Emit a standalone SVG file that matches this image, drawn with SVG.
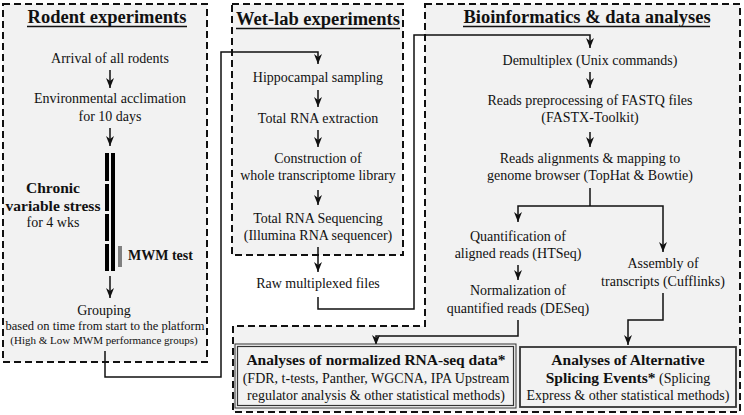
<svg xmlns="http://www.w3.org/2000/svg" width="744" height="415" viewBox="0 0 744 415">
<defs>
<marker id="ah" markerWidth="10" markerHeight="8" refX="10" refY="4" orient="auto" markerUnits="userSpaceOnUse" viewBox="0 0 10 8">
<path d="M0,0 L10,4 L0,8 L3,4 Z" fill="#111"/>
</marker>
<style>
text{fill:#111;text-anchor:middle}
.t{font-size:18.5px;font-weight:bold}
.b{font-size:14px}
.bb{font-size:15.5px;font-weight:bold}
.s{font-size:12.5px}
.xs{font-size:11px}
.panel{fill:#f2f2f2;stroke:#111;stroke-width:2;stroke-dasharray:7,4}
.ul{stroke:#111;stroke-width:1.5}
.c{fill:none;stroke:#111;stroke-width:1.5}
.ca{fill:none;stroke:#111;stroke-width:1.5;marker-end:url(#ah)}
.box{fill:#f2f2f2;stroke:#333;stroke-width:1.8}
</style>
</defs>
<rect width="744" height="415" fill="#ffffff"/>
<g font-family="Liberation Serif, DejaVu Serif, serif">
<g id="panel-rodent">
<rect class="panel" x="3" y="4" width="204" height="358"/>
<text class="t" x="107" y="23">Rodent experiments</text>
<line class="ul" x1="27" y1="26.5" x2="187" y2="26.5"/>
</g>
<g id="panel-wetlab">
<rect class="panel" x="232" y="4" width="171" height="251"/>
<text class="t" x="318" y="25">Wet-lab experiments</text>
<line class="ul" x1="236" y1="28.5" x2="400" y2="28.5"/>
</g>
<g id="panel-bioinf">
<path class="panel" d="M425,4 H740 V412 H233 V326 H425 Z"/>
<text class="t" x="587" y="23">Bioinformatics &amp; data analyses</text>
<line class="ul" x1="463" y1="26.5" x2="710" y2="26.5"/>
</g>

<g id="connectors">
<path class="ca" d="M105,351 V377 H221 V52 H318 V64"/>
<path class="ca" d="M318,297 V309 H414 V35 H590 V48"/>
<path class="ca" d="M110,70 V88"/>
<path class="ca" d="M110,128 V146"/>
<path class="ca" d="M110,276 V298"/>
<path class="ca" d="M318,90 V107"/>
<path class="ca" d="M318,130 V147"/>
<path class="ca" d="M318,190 V205"/>
<path class="ca" d="M318,247 V272"/>
<path class="ca" d="M590,72 V88"/>
<path class="ca" d="M590,132 V147"/>
<path class="c" d="M590,188 V206"/>
<path class="ca" d="M590,206 H518 V222"/>
<path class="ca" d="M590,206 H663 V252"/>
<path class="ca" d="M518,265 V280"/>
<path class="ca" d="M518,320 V336 H376 V345"/>
<path class="ca" d="M663,293 V320 H628 V345"/>
</g>

<g id="n-arrival"><text class="b" x="110" y="63">Arrival of all rodents</text></g>
<g id="n-acclimation"><text class="b" x="110" y="103">Environmental acclimation</text><text class="b" x="110" y="121">for 10 days</text></g>
<g id="n-stress">
<rect x="105" y="153" width="4" height="28" fill="#000"/>
<rect x="105" y="184" width="4" height="27" fill="#000"/>
<rect x="105" y="214" width="4" height="27" fill="#000"/>
<rect x="105" y="244" width="4" height="27" fill="#000"/>
<rect x="111" y="153" width="4" height="118" fill="#000"/>
<text class="bb" x="53" y="193">Chronic</text>
<text class="bb" x="53" y="211">variable stress</text>
<text class="b" x="53" y="227">for 4 wks</text>
</g>
<g id="n-mwm">
<rect x="118" y="246" width="4" height="21" fill="#808080"/>
<text class="bb" x="128" y="260" style="text-anchor:start;font-size:14px">MWM test</text>
</g>
<g id="n-grouping">
<text class="b" x="104" y="315">Grouping</text>
<text class="s" x="105" y="330">based on time from start to the platform</text>
<text class="xs" x="104" y="344">(High &amp; Low MWM performance groups)</text>
</g>

<g id="n-hippo"><text class="b" x="318" y="82">Hippocampal sampling</text></g>
<g id="n-rna"><text class="b" x="318" y="123">Total RNA extraction</text></g>
<g id="n-library"><text class="b" x="318" y="163">Construction of</text><text class="b" x="318" y="180">whole transcriptome library</text></g>
<g id="n-seq"><text class="b" x="318" y="223">Total RNA Sequencing</text><text class="b" x="318" y="240">(Illumina RNA sequencer)</text></g>
<g id="n-raw"><text class="b" x="318" y="288">Raw multiplexed files</text></g>

<g id="n-demux"><text class="b" x="590" y="65">Demultiplex (Unix commands)</text></g>
<g id="n-preproc"><text class="b" x="590" y="105">Reads preprocessing of FASTQ files</text><text class="b" x="590" y="122">(FASTX-Toolkit)</text></g>
<g id="n-align"><text class="b" x="590" y="163">Reads alignments &amp; mapping to</text><text class="b" x="590" y="180">genome browser (TopHat &amp; Bowtie)</text></g>
<g id="n-quant"><text class="b" x="518" y="241">Quantification of</text><text class="b" x="518" y="258">aligned reads (HTSeq)</text></g>
<g id="n-norm"><text class="b" x="518" y="295">Normalization of</text><text class="b" x="518" y="313">quantified reads (DESeq)</text></g>
<g id="n-assembly"><text class="b" x="663" y="268">Assembly of</text><text class="b" x="663" y="286">transcripts (Cufflinks)</text></g>

<g id="n-analysis-rnaseq">
<rect class="box" x="235" y="344" width="281" height="64" style="stroke-width:1"/>
<rect class="box" x="237.5" y="346.5" width="276" height="59" style="stroke-width:1.2"/>
<text class="bb" x="376" y="365">Analyses of normalized RNA-seq data*</text>
<text class="b" x="376" y="383">(FDR, t-tests, Panther, WGCNA, IPA Upstream</text>
<text class="b" x="376" y="400">regulator analysis &amp; other statistical methods)</text>
</g>
<g id="n-analysis-splicing">
<rect class="box" x="520" y="347" width="216" height="60"/>
<text class="bb" x="628" y="365">Analyses of Alternative</text>
<text class="b" x="628" y="383"><tspan style="font-weight:bold;font-size:15.5px">Splicing Events*</tspan> (Splicing</text>
<text class="b" x="628" y="400">Express &amp; other statistical methods)</text>
</g>
</g>
</svg>
